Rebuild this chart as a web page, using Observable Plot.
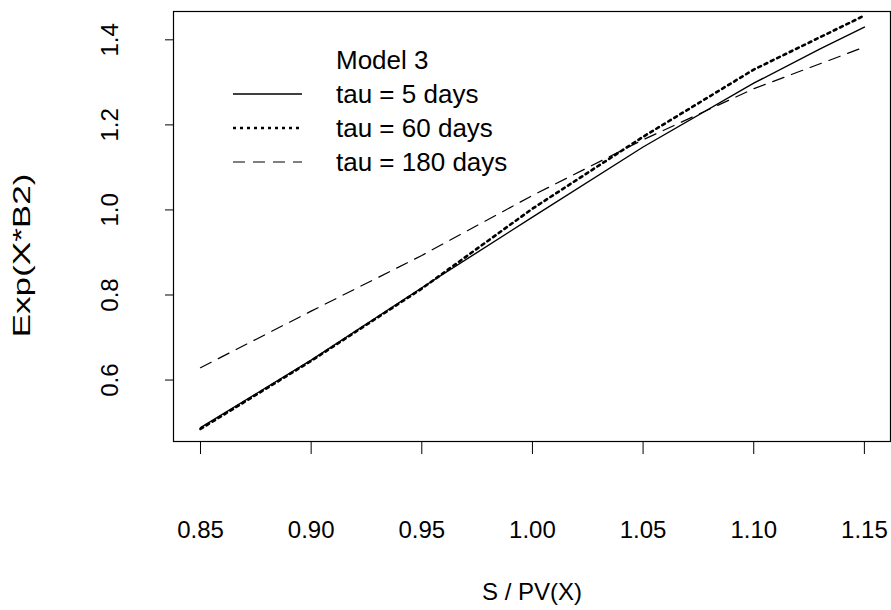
<!DOCTYPE html>
<html>
<head>
<meta charset="utf-8">
<script src="https://cdn.jsdelivr.net/npm/d3@7"></script>
<script src="https://cdn.jsdelivr.net/npm/@observablehq/plot@0.6"></script>
<style>
  html, body { margin: 0; padding: 0; background: #fff; }
  #wrap { position: relative; width: 891px; height: 610px; font-family: "Liberation Sans", Arial, sans-serif; }
  #legend { position: absolute; left: 0; top: 0; }
</style>
</head>
<body>
<div id="wrap"></div>
<script>
// ---- data ----
const xTicks = [0.85, 0.90, 0.95, 1.00, 1.05, 1.10, 1.15];
const yTicks = [0.6, 0.8, 1.0, 1.2, 1.4];

const tau5X   = [0.85, 0.90, 0.95, 1.00, 1.05, 1.10, 1.13, 1.15];
const tau5Y   = [0.488, 0.647, 0.817, 0.983, 1.148, 1.298, 1.379, 1.430];

const tau60X  = [0.85, 0.90, 0.95, 1.00, 1.05, 1.10, 1.15];
const tau60Y  = [0.485, 0.645, 0.815, 1.003, 1.172, 1.330, 1.457];

const tau180X = [0.85, 0.90, 0.95, 1.00, 1.05, 1.10, 1.15];
const tau180Y = [0.629, 0.762, 0.893, 1.034, 1.165, 1.285, 1.383];

const legendTitle = "Model 3";
const seriesNames = ["tau = 5 days", "tau = 60 days", "tau = 180 days"];
const xTitle = "S / PV(X)";
const yTitle = "Exp(X*B2)";

// ---- build ----
const toRows = (xs, ys) => xs.map((x, i) => ({x, y: ys[i]}));
const s5 = toRows(tau5X, tau5Y);
const s60 = toRows(tau60X, tau60Y);
const s180 = toRows(tau180X, tau180Y);

const FS = 24;
const LFS = 26;
const styles = [
  {strokeWidth: 1.4, strokeDasharray: null},
  {strokeWidth: 2.6, strokeDasharray: "3,4"},
  {strokeWidth: 1.2, strokeDasharray: "12,8"}
];

const chart = Plot.plot({
  width: 891,
  height: 610,
  marginLeft: 173,
  marginRight: 1,
  marginTop: 11,
  marginBottom: 169,
  style: {background: "#fff", fontFamily: "'Liberation Sans', Arial, sans-serif", fontSize: FS + "px", color: "#000"},
  x: {domain: [0.8378, 1.1618]},
  y: {domain: [0.4555, 1.4666]},
  marks: [
    Plot.axisX({ticks: xTicks, tickSize: 13, tickFormat: () => "", label: null, stroke: "#000", strokeWidth: 1}),
    Plot.axisY({ticks: yTicks, tickSize: 8, tickFormat: () => "", label: null, stroke: "#000", strokeWidth: 1}),
    Plot.text(xTicks, {x: d => d, frameAnchor: "bottom", dy: 89, lineAnchor: "middle", text: d => d3.format(".2f")(d), fontSize: FS, fill: "#000"}),
    Plot.text(yTicks, {y: d => d, frameAnchor: "left", dx: -63, rotate: -90, textAnchor: "middle", lineAnchor: "middle", text: d => d3.format(".1f")(d), fontSize: FS, fill: "#000"}),
    Plot.text([xTitle], {frameAnchor: "bottom", dy: 151, lineAnchor: "middle", text: d => d, fontSize: FS, fill: "#000"}),
    Plot.text([yTitle], {frameAnchor: "left", dx: -151, dy: 29, rotate: -90, textAnchor: "middle", lineAnchor: "middle", text: d => d, fontSize: FS, fill: "#000", className: "ytitle"}),
    Plot.line(s5, {x: "x", y: "y", stroke: "#000", strokeWidth: styles[0].strokeWidth}),
    Plot.line(s60, {x: "x", y: "y", stroke: "#000", strokeWidth: styles[1].strokeWidth, strokeDasharray: styles[1].strokeDasharray}),
    Plot.line(s180, {x: "x", y: "y", stroke: "#000", strokeWidth: styles[2].strokeWidth, strokeDasharray: styles[2].strokeDasharray}),
    Plot.frame({stroke: "#000", strokeWidth: 1.2})
  ]
});
// the reference's y title is stretched along its length
chart.querySelectorAll("text").forEach(t => {
  if (t.textContent === yTitle) {
    t.setAttribute("textLength", 164);
    t.setAttribute("lengthAdjust", "spacingAndGlyphs");
  }
});
document.getElementById("wrap").appendChild(chart);

// ---- legend overlay ----
const ns = "http://www.w3.org/2000/svg";
const lg = document.createElementNS(ns, "svg");
lg.setAttribute("id", "legend");
lg.setAttribute("width", 891);
lg.setAttribute("height", 200);
const t0 = document.createElementNS(ns, "text");
t0.setAttribute("x", 336); t0.setAttribute("y", 60);
t0.setAttribute("dominant-baseline", "central");
t0.setAttribute("font-size", LFS);
t0.setAttribute("font-family", "'Liberation Sans', Arial, sans-serif");
t0.textContent = legendTitle;
lg.appendChild(t0);
const rowsY = [94, 128, 162];
seriesNames.forEach((name, i) => {
  const ln = document.createElementNS(ns, "line");
  ln.setAttribute("x1", 233); ln.setAttribute("x2", 302);
  ln.setAttribute("y1", rowsY[i]); ln.setAttribute("y2", rowsY[i]);
  ln.setAttribute("stroke", "#000");
  ln.setAttribute("stroke-width", styles[i].strokeWidth);
  if (styles[i].strokeDasharray) ln.setAttribute("stroke-dasharray", styles[i].strokeDasharray);
  lg.appendChild(ln);
  const tx = document.createElementNS(ns, "text");
  tx.setAttribute("x", 336); tx.setAttribute("y", rowsY[i]);
  tx.setAttribute("dominant-baseline", "central");
  tx.setAttribute("font-size", LFS);
  tx.setAttribute("font-family", "'Liberation Sans', Arial, sans-serif");
  tx.textContent = name;
  lg.appendChild(tx);
});
document.getElementById("wrap").appendChild(lg);
</script>
</body>
</html>
